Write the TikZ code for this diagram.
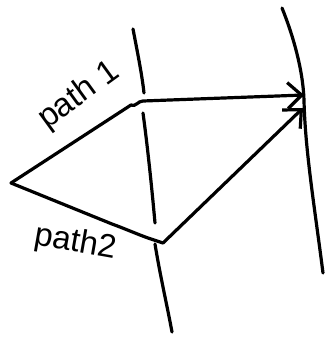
\documentclass[tikz,border=0pt]{standalone}
\usepackage{fontspec}
\setmainfont{Liberation Sans}
\usetikzlibrary{arrows.meta}
\begin{document}
\begin{tikzpicture}[x=1bp,y=-1bp,
  ink/.style={line width=3.2bp,line cap=round,line join=round},
  tip/.style={-{Straight Barb[length=14bp,width=26bp,line width=3.2bp]}},
  lbl/.style={font=\fontsize{33}{35}\selectfont,inner sep=0pt}]
\useasboundingbox (0,0) rectangle (325,339);
% boundaries
\draw[ink] (133,29) .. controls (138,55) and (142,75) .. (144,93);
\draw[ink] (143,113) .. controls (148,150) and (152,190) .. (155,223);
\draw[ink] (155,244) .. controls (160,275) and (167,305) .. (172,332);
\draw[ink] (282,8) .. controls (293,35) and (303,70) .. (304,100) .. controls (305,150) and (315,210) .. (323,273);
% points
\coordinate (s) at (11,183);
\coordinate (b1) at (131,105);
\coordinate (c1) at (143,101);
\coordinate (t1) at (304,95);
\coordinate (b2) at (112,224);
\coordinate (c2) at (148,238);
\coordinate (b3) at (163,243);
\coordinate (t2) at (303,108);
% paths
\draw[ink,tip] (s) -- (b1) to[out=-30,in=178] (c1) -- (t1);
\draw[ink,tip] (s) -- (b2) to[out=-20,in=160] (c2) -- (b3) -- (t2);
% labels
\node[lbl,rotate=36] (l1) at (79,96) {path 1};
\node[lbl,rotate=-10] (l2) at (75,243) {path2};
\end{tikzpicture}
\end{document}
